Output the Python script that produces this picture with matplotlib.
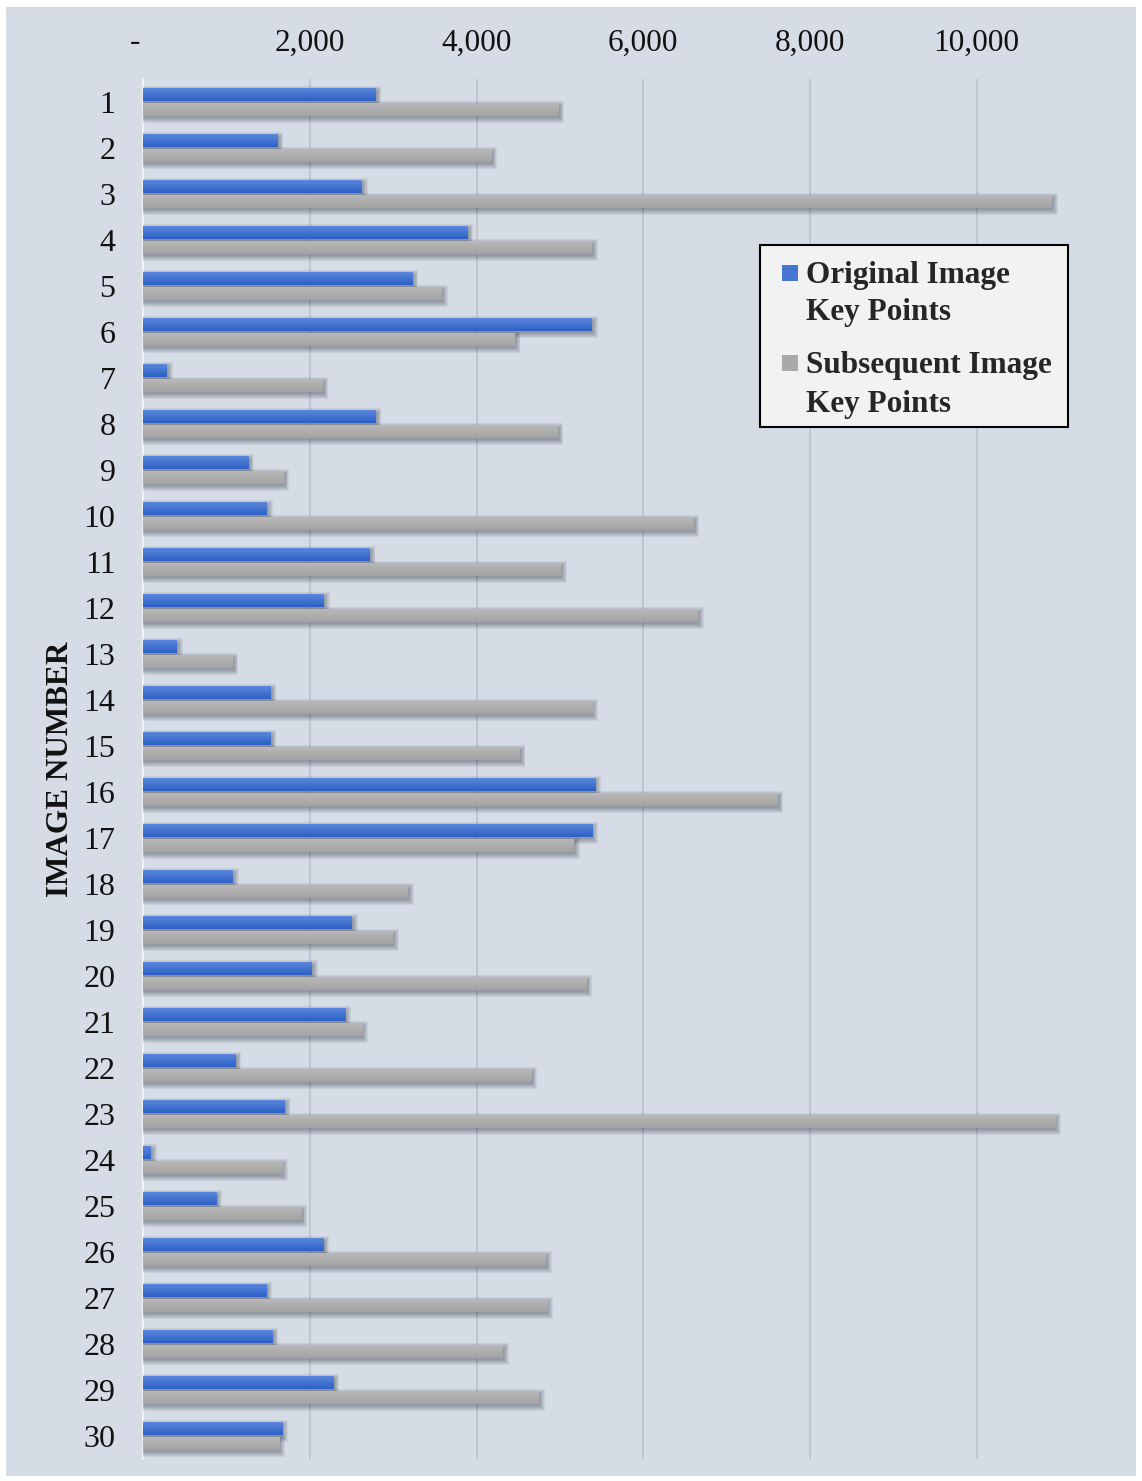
import numpy as np
import matplotlib
matplotlib.use("Agg")
import matplotlib.pyplot as plt
from matplotlib.patches import Rectangle
from matplotlib.colors import to_rgb

# ---- data -------------------------------------------------------------
images = list(range(1, 31))
original = [2790, 1615, 2625, 3895, 3235, 5385, 285, 2790, 1265, 1485,
            2720, 2170, 405, 1530, 1530, 5425, 5390, 1080, 2505, 2025,
            2425, 1110, 1700, 95, 880, 2165, 1480, 1555, 2285, 1670]
subsequent = [4985, 4180, 10905, 5385, 3585, 4460, 2155, 4975, 1685, 6605,
              5015, 6660, 1075, 5390, 4520, 7615, 5170, 3180, 3000, 5320,
              2630, 4660, 10945, 1670, 1900, 4835, 4850, 4320, 4750, 1635]
series_names = ["Original Image\nKey Points", "Subsequent Image\nKey Points"]
x_ticks = [0, 2000, 4000, 6000, 8000, 10000]
x_tick_labels = ["-  ", "2,000", "4,000", "6,000", "8,000", "10,000"]
y_title = "IMAGE NUMBER"

# ---- style ------------------------------------------------------------
W, H = 1142, 1481
DPI = 100
SERIF = ["Liberation Serif", "DejaVu Serif"]
PANEL = "#d6dce5"
GRID = "#b9c0cb"
BLUE_TOP, BLUE_BOT = "#5b87dc", "#2d60c6"
GRAY_TOP, GRAY_BOT = "#b8b8b8", "#a3a3a3"
SHADOW = "#222a36"

plt.rcParams["font.family"] = SERIF

fig = plt.figure(figsize=(W / DPI, H / DPI), dpi=DPI, facecolor="white")


def fx(px):
    return px / W


def fy(py):
    return 1 - py / H


# chart panel behind everything
fig.patches.append(Rectangle((fx(6), fy(1476)), fx(1136) - fx(6), fy(7) - fy(1476),
                             transform=fig.transFigure, facecolor=PANEL,
                             edgecolor="none", zorder=-10))

x_max = 11700
ax_left, ax_top, ax_bottom = 143.3, 79, 1459
ax_right = ax_left + x_max / 12.0
ax = fig.add_axes([fx(ax_left), fy(ax_bottom), fx(ax_right) - fx(ax_left),
                   fy(ax_top) - fy(ax_bottom)])
ax.set_facecolor("none")
ax.set_zorder(1)

y = np.array(images, dtype=float)
bar_h = 0.28
off_blue, off_gray = -0.163, 0.163
px_y = 1.0 / 46.0   # one pixel in category units
px_x = 12.0         # one pixel in value units


def gradient(top, bottom, n=64):
    t = np.linspace(0, 1, n)[:, None]
    c0, c1 = np.array(to_rgb(top)), np.array(to_rgb(bottom))
    return (c0 * (1 - t) + c1 * t)[:, None, :]


def draw_series(values, offset, top, bottom):
    vals = np.array(values, dtype=float)
    # soft drop shadow: translucent layers that widen outward
    for k in range(6):
        grow = k * 0.9
        ax.barh(y + offset + 2.5 * px_y, vals + (1.0 + grow) * px_x,
                height=bar_h + 2 * grow * px_y, left=0,
                color=SHADOW, alpha=0.07, linewidth=0, zorder=2)
    bars = ax.barh(y + offset, vals, height=bar_h, left=0,
                   color=bottom, linewidth=0, zorder=3)
    grad = gradient(top, bottom)
    for patch in bars.patches:
        x0, y0 = patch.get_x(), patch.get_y()
        w, h = patch.get_width(), patch.get_height()
        im = ax.imshow(grad, extent=(x0, x0 + w, y0 + h, y0), origin="upper",
                       aspect="auto", interpolation="bilinear", zorder=4)
        im.set_clip_path(patch)
    return bars


draw_series(original, off_blue, BLUE_TOP, BLUE_BOT)
draw_series(subsequent, off_gray, GRAY_TOP, GRAY_BOT)

ax.set_xlim(0, x_max)
ax.set_ylim(30.5, 0.5)

ax.set_xticks(x_ticks)
ax.set_xticklabels(x_tick_labels)
ax.xaxis.tick_top()
ax.set_yticks(images)
ax.set_yticklabels([str(i) for i in images])
ax.tick_params(axis="x", length=0, pad=15.5, labelsize=22.5, labelcolor="#111111")
ax.tick_params(axis="y", length=0, pad=20, labelsize=23, labelcolor="#111111")

ax.grid(axis="x", color=GRID, linewidth=1.1, zorder=1)
ax.set_axisbelow(True)
for side in ("top", "right", "bottom"):
    ax.spines[side].set_visible(False)
ax.spines["left"].set_color("#eef1f5")
ax.spines["left"].set_linewidth(1.6)
ax.spines["left"].set_zorder(1.5)

fig.text(fx(60), fy(769), y_title, rotation=90, ha="center", va="center",
         fontsize=22.5, fontweight="bold", color="#111111")

# ---- legend box -------------------------------------------------------
fig.patches.append(Rectangle((fx(760), fy(427)), fx(1068) - fx(760), fy(245) - fy(427),
                             transform=fig.transFigure, facecolor="#f2f2f2",
                             edgecolor="black", linewidth=1.5, zorder=5))
legend_rows = [
    (series_names[0], "#4676d2", [283.3, 320.0], 265),
    (series_names[1], "#a9a9a9", [373.3, 411.7], 355),
]
for label, col, baselines, sq_top in legend_rows:
    fig.patches.append(Rectangle((fx(782), fy(sq_top + 16)), fx(16), 16 / H,
                                 transform=fig.transFigure, facecolor=col,
                                 edgecolor="none", zorder=6))
    for line, base in zip(label.split("\n"), baselines):
        fig.text(fx(806), fy(base), line, ha="left", va="baseline",
                 fontsize=22.5, fontweight="bold", color="#262626", zorder=7)

fig.savefig("out.png", dpi=DPI, facecolor="white")
